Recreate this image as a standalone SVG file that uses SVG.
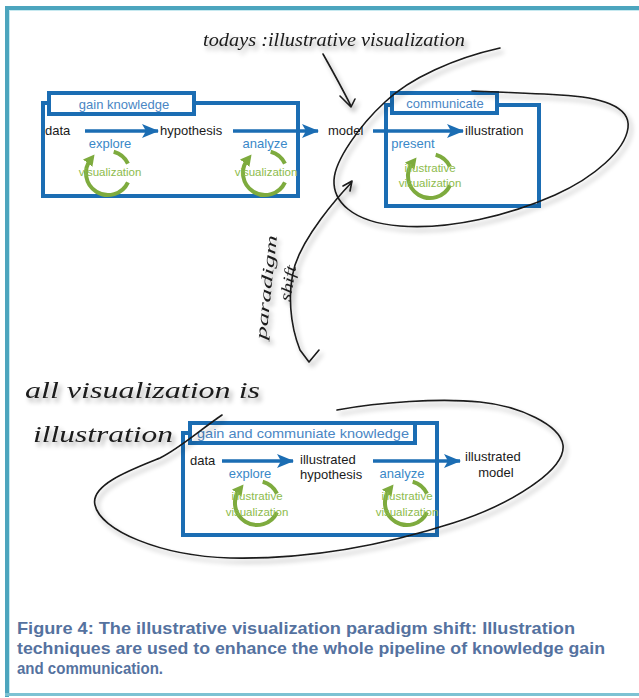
<svg xmlns="http://www.w3.org/2000/svg" width="639" height="698" viewBox="0 0 639 698">
<style>
.box{fill:none;stroke:#1b6db3;stroke-width:4}
.tab{fill:#fff;stroke:#1b6db3;stroke-width:4}
.tabt{font-family:"Liberation Sans",Arial,sans-serif;font-size:13px;fill:#4a86c4}
.lbl{font-family:"Liberation Sans",Arial,sans-serif;font-size:13px;fill:#1a1a1a}
.act{font-family:"Liberation Sans",Arial,sans-serif;font-size:13px;fill:#3a88c8;text-anchor:middle}
.gt{font-family:"Liberation Sans",Arial,sans-serif;font-size:11.5px;fill:#8dbb4c;text-anchor:middle}
.arr{fill:none;stroke:#1b6db3;stroke-width:3.5;marker-end:url(#ah)}
.cyc{fill:none;stroke:#7eab3e;stroke-width:4}
.hand{fill:none;stroke:#1a1a1a;stroke-width:1.6;stroke-linecap:round;stroke-linejoin:round}
.ht{font-family:"Liberation Serif","DejaVu Serif",serif;font-style:italic;fill:#1a1a1a}
.cap{font-family:"Liberation Sans",Arial,sans-serif;font-weight:bold;font-size:16.5px;fill:#55729f}
</style>
<defs>
<marker id="ah" markerUnits="userSpaceOnUse" markerWidth="18" markerHeight="14" refX="16" refY="7" orient="auto">
<path d="M0,0 L17,7 L0,14 L4,7 Z" fill="#1b6db3"/>
</marker>
<marker id="gh" markerUnits="userSpaceOnUse" markerWidth="12" markerHeight="12" refX="5" refY="6" orient="auto">
<path d="M0,0 L11,6 L0,12 Z" fill="#7eab3e"/>
</marker>
<filter id="sh" x="-10%" y="-30%" width="130%" height="180%">
<feGaussianBlur in="SourceAlpha" stdDeviation="2.5"/>
<feOffset dx="3" dy="4" result="b"/>
<feComponentTransfer><feFuncA type="linear" slope="0.35"/></feComponentTransfer>
<feMerge><feMergeNode/><feMergeNode in="SourceGraphic"/></feMerge>
</filter>
<g id="cycle">
<path class="cyc" d="M5.7,-21.25 A22,22 0 0 1 19.94,-9.3"/>
<path class="cyc" d="M19.94,9.3 A22,22 0 1 1 -17.2,-13.7" marker-end="url(#gh)"/>
</g>
</defs>
<rect width="639" height="698" fill="#fff"/>
<!-- frame -->
<g id="frame">
<rect x="5" y="6" width="634" height="4" fill="#4ca5be"/>
<rect x="5" y="6" width="4" height="691" fill="#4ca5be"/>
<rect x="5" y="693" width="634" height="3" fill="#7dc2d3"/>
<rect x="9" y="10" width="630" height="1" fill="#c6e9f0"/>
<rect x="9" y="10" width="1" height="683" fill="#c6e9f0"/>
</g>

<!-- top left group -->
<g id="gain-knowledge">
<rect class="box" x="43" y="103" width="255" height="93"/>
<rect class="tab" x="49" y="93" width="145" height="21"/>
<text class="tabt" x="124" y="109" text-anchor="middle">gain knowledge</text>
</g>
<g id="communicate">
<rect class="box" x="386" y="105" width="153" height="101"/>
<rect class="tab" x="392" y="93" width="105" height="20"/>
<text class="tabt" x="445" y="108" text-anchor="middle">communicate</text>
</g>
<g id="gain-communicate">
<path class="box" d="M190,433 H183 V535 H437 V423 H415"/>
<rect class="tab" x="190" y="423" width="225" height="20"/>
<text class="tabt" x="197" y="438" textLength="212" lengthAdjust="spacingAndGlyphs">gain and communiate knowledge</text>
</g>

<g id="connectors">
<path class="arr" d="M85,131 H158"/>
<path class="arr" d="M233,131 H318"/>
<path class="arr" d="M373,131 H463"/>
<path class="arr" d="M222,461 H293"/>
<path class="arr" d="M373,461 H460"/>
</g>

<g id="nodes-top">
<text class="lbl" x="45" y="135">data</text>
<text class="lbl" x="160" y="135">hypothesis</text>
<text class="lbl" x="328" y="135">model</text>
<text class="lbl" x="465" y="135">illustration</text>
<text class="act" x="110" y="148">explore</text>
<text class="act" x="265" y="148">analyze</text>
<text class="act" x="413" y="148">present</text>
<use href="#cycle" x="108" y="173"/>
<use href="#cycle" x="265" y="173"/>
<use href="#cycle" x="430" y="176"/>
<text class="gt" x="110" y="176">visualization</text>
<text class="gt" x="266" y="176">visualization</text>
<text class="gt" x="430" y="172">illustrative</text>
<text class="gt" x="430" y="187">visualization</text>
</g>

<g id="nodes-bottom">
<text class="lbl" x="190" y="465">data</text>
<text class="lbl" x="300" y="464">illustrated</text>
<text class="lbl" x="300" y="479">hypothesis</text>
<text class="lbl" x="465" y="461">illustrated</text>
<text class="lbl" x="496" y="477" text-anchor="middle">model</text>
<text class="act" x="250" y="478">explore</text>
<text class="act" x="402" y="478">analyze</text>
<use href="#cycle" x="257" y="503"/>
<use href="#cycle" x="407" y="503"/>
<text class="gt" x="257" y="500">illustrative</text>
<text class="gt" x="257" y="516">visualization</text>
<text class="gt" x="407" y="500">illustrative</text>
<text class="gt" x="407" y="516">visualization</text>
</g>

<g id="handwriting" filter="url(#sh)">
<text class="ht" x="203" y="46" font-size="18" textLength="262" lengthAdjust="spacingAndGlyphs">todays :illustrative visualization</text>
<path class="hand" d="M323,54 C332,70 342,88 351,106 M340,96 L351,107 L355,99"/>
<path class="hand" d="M500,48 C455,58 410,78 385,102 C360,125 335,160 334,180 C333,200 350,222 400,226 C450,230 510,215 555,195 C595,177 625,150 628,128 C631,106 600,97 560,95 C530,93 500,92 472,91"/>
<path class="hand" d="M352,182 C335,200 305,235 295,265 C287,292 290,325 300,350 L309,362 L319,350 M343,186 L352,181 L350,191"/>
<text class="ht" font-size="16" transform="translate(266,340) rotate(-84)" textLength="105" lengthAdjust="spacingAndGlyphs">paradigm</text>
<text class="ht" font-size="16" transform="translate(290,302) rotate(-80)" textLength="36" lengthAdjust="spacingAndGlyphs">shift</text>
<text class="ht" x="25" y="398" font-size="24" textLength="235" lengthAdjust="spacingAndGlyphs">all visualization is</text>
<text class="ht" x="33" y="442" font-size="24" textLength="140" lengthAdjust="spacingAndGlyphs">illustration</text>
<path class="hand" d="M337,410 C380,402 440,398 480,402 C520,406 560,425 563,445 C566,470 510,505 453,523 C400,540 320,560 230,558 C160,556 100,530 95,505 C90,485 130,470 160,458 C180,448 200,430 222,415"/>
</g>

<g id="caption">
<text class="cap" x="17" y="634" textLength="558" lengthAdjust="spacingAndGlyphs">Figure 4: The illustrative visualization paradigm shift: Illustration</text>
<text class="cap" x="17" y="654" textLength="588" lengthAdjust="spacingAndGlyphs">techniques are used to enhance the whole pipeline of knowledge gain</text>
<text class="cap" x="17" y="674" textLength="146" lengthAdjust="spacingAndGlyphs">and communication.</text>
</g>
</svg>
